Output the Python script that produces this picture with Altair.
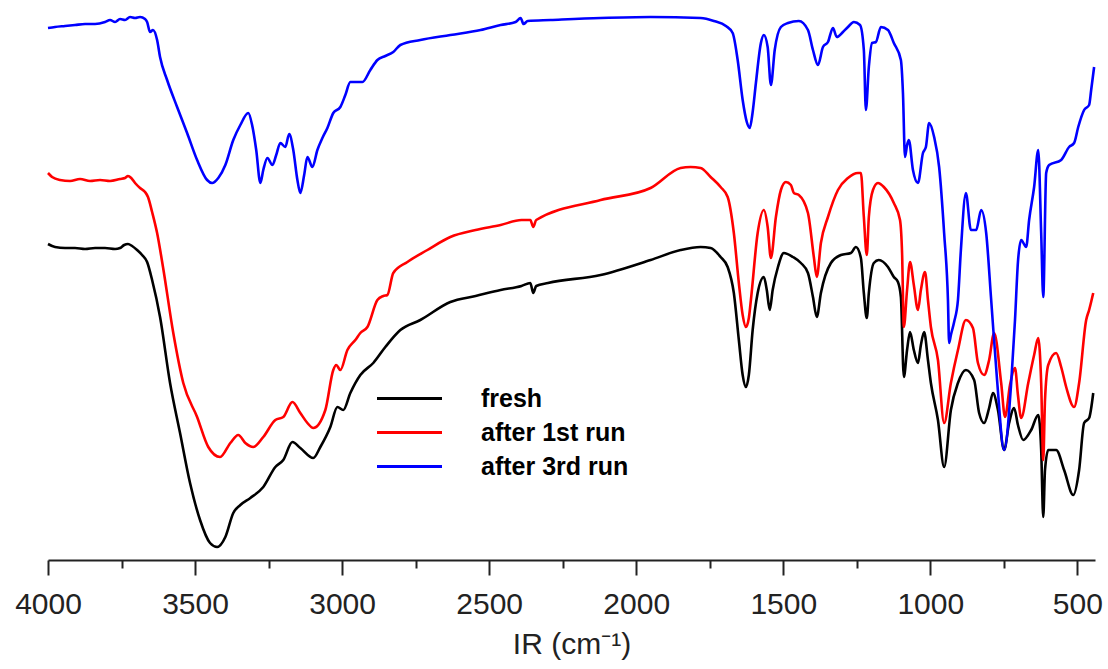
import altair as alt
import pandas as pd

# ---- data (wavenumber in cm-1, transmittance in arbitrary units, offset curves) ----
fresh_wn = [4000, 3976, 3942, 3908, 3874, 3840, 3806, 3772, 3755, 3741,
            3728, 3714, 3697, 3680, 3663, 3646, 3619, 3585, 3551, 3517,
            3483, 3449, 3425, 3397, 3370, 3346, 3312, 3268, 3227, 3200,
            3169, 3142, 3098, 3074, 3040, 3016, 2996, 2972, 2938, 2894,
            2853, 2802, 2734, 2632, 2546, 2461, 2390, 2360, 2350, 2340,
            2300, 2121, 1951, 1849, 1781, 1747, 1713, 1689, 1668, 1651,
            1638, 1627, 1617, 1604, 1587, 1566, 1556, 1546, 1536, 1518,
            1498, 1467, 1440, 1416, 1399, 1386, 1372, 1338, 1304, 1270,
            1253, 1236, 1226, 1216, 1209, 1192, 1175, 1144, 1124, 1110,
            1100, 1090, 1079, 1069, 1056, 1042, 1032, 1021, 1008, 998,
            974, 953, 930, 906, 879, 851, 834, 817, 800, 787,
            770, 749, 732, 715, 702, 684, 657, 633, 623, 616,
            610, 599, 572, 545, 514, 494, 477, 460, 446]
fresh_t = [316, 313, 312, 312, 311, 312, 312, 311, 312, 315,
           316, 314, 310, 305, 298, 280, 243, 177, 127, 77,
           40, 17, 13, 23, 47, 55, 62, 73, 93, 100,
           118, 112, 102, 113, 133, 153, 150, 167, 185, 197,
           213, 230, 240, 258, 264, 270, 274, 277, 267, 274,
           277, 285, 300, 310, 313, 312, 303, 293, 267, 220,
           185, 173, 185, 230, 267, 283, 270, 250, 270, 293,
           307, 303, 297, 287, 263, 243, 267, 297, 305, 307,
           313, 302, 267, 242, 267, 297, 300, 293, 283, 278,
           263, 183, 210, 228, 210, 197, 215, 228, 200, 177,
           140, 93, 150, 177, 190, 180, 147, 137, 152, 167,
           150, 110, 137, 152, 135, 120, 130, 145, 110, 43,
           90, 110, 110, 90, 65, 90, 137, 142, 167]

run1_wn = [4000, 3986, 3959, 3925, 3891, 3857, 3823, 3789, 3755, 3738,
           3728, 3717, 3704, 3687, 3670, 3660, 3646, 3629, 3609, 3574,
           3540, 3493, 3455, 3415, 3380, 3353, 3329, 3302, 3268, 3227,
           3200, 3169, 3142, 3118, 3098, 3057, 3030, 3020, 3006, 2982,
           2955, 2938, 2914, 2880, 2860, 2846, 2826, 2778, 2710, 2632,
           2546, 2461, 2390, 2360, 2350, 2340, 2121, 1951, 1849, 1815,
           1781, 1747, 1713, 1689, 1668, 1651, 1638, 1627, 1617, 1610,
           1587, 1566, 1553, 1542, 1525, 1508, 1491, 1474, 1464, 1447,
           1416, 1396, 1386, 1372, 1348, 1314, 1280, 1246, 1236, 1226,
           1216, 1209, 1195, 1178, 1158, 1124, 1103, 1096, 1090, 1079,
           1069, 1056, 1042, 1032, 1018, 1008, 998, 974, 953, 930,
           906, 879, 855, 838, 817, 800, 783, 759, 746, 729,
           712, 702, 691, 667, 647, 633, 623, 616, 610, 599,
           572, 555, 538, 511, 494, 470, 460, 446]
run1_t = [387, 383, 380, 379, 381, 379, 380, 379, 381, 382,
          384, 382, 377, 372, 368, 363, 348, 327, 293, 227,
          177, 143, 113, 103, 117, 125, 117, 113, 123, 140,
          143, 158, 147, 137, 132, 150, 190, 195, 190, 210,
          220, 227, 233, 260, 264, 265, 287, 298, 310, 323,
          330, 335, 340, 340, 333, 340, 360, 372, 392, 393,
          392, 383, 373, 363, 327, 277, 245, 233, 242, 260,
          327, 350, 333, 302, 343, 370, 378, 375, 367, 365,
          347, 303, 283, 317, 343, 370, 382, 387, 387, 343,
          305, 343, 370, 377, 373, 357, 340, 307, 233, 270,
          298, 275, 250, 270, 288, 260, 233, 200, 137, 177,
          210, 240, 232, 197, 185, 200, 227, 177, 143, 175,
          192, 165, 142, 177, 205, 222, 177, 100, 160, 195,
          207, 193, 173, 153, 177, 240, 250, 267]

run3_wn = [4000, 3976, 3942, 3908, 3874, 3840, 3806, 3789, 3772, 3755,
           3738, 3721, 3704, 3687, 3670, 3663, 3653, 3643, 3629, 3619,
           3595, 3561, 3527, 3493, 3459, 3442, 3421, 3397, 3370, 3346,
           3319, 3306, 3292, 3278, 3268, 3254, 3237, 3224, 3210, 3193,
           3180, 3166, 3152, 3142, 3129, 3118, 3101, 3084, 3067, 3050,
           3030, 3006, 2989, 2972, 2952, 2931, 2904, 2880, 2853, 2826,
           2802, 2734, 2632, 2529, 2461, 2410, 2393, 2383, 2369, 2291,
           2121, 1951, 1781, 1736, 1695, 1672, 1655, 1638, 1624, 1614,
           1604, 1593, 1576, 1566, 1553, 1542, 1529, 1508, 1484, 1447,
           1416, 1399, 1382, 1365, 1348, 1331, 1318, 1297, 1280, 1260,
           1239, 1226, 1219, 1209, 1198, 1185, 1168, 1144, 1124, 1100,
           1093, 1086, 1079, 1073, 1059, 1042, 1025, 1015, 1004, 987,
           970, 953, 940, 936, 930, 919, 906, 896, 879, 862,
           844, 827, 810, 793, 773, 749, 725, 712, 702, 691,
           674, 664, 647, 633, 623, 616, 606, 596, 555, 528,
           511, 497, 477, 460, 453, 443]
run3_t = [532, 533, 534, 535, 536, 536, 538, 540, 538, 541,
          540, 543, 542, 543, 541, 538, 528, 530, 520, 503,
          480, 453, 427, 400, 380, 377, 382, 395, 420, 435,
          447, 435, 410, 377, 390, 402, 395, 405, 417, 413,
          426, 410, 380, 367, 385, 403, 393, 410, 422, 432,
          447, 453, 465, 478, 478, 478, 490, 500, 504, 508,
          515, 520, 525, 530, 535, 538, 542, 536, 539, 540,
          542, 543, 542, 539, 534, 527, 500, 460, 438, 432,
          448, 477, 517, 525, 513, 475, 510, 533, 537, 539,
          530, 510, 495, 513, 518, 532, 523, 528, 533, 538,
          535, 510, 450, 493, 517, 518, 533, 530, 517, 500,
          467, 403, 415, 420, 390, 377, 407, 413, 437, 423,
          393, 327, 260, 217, 225, 238, 260, 310, 367, 330,
          330, 350, 327, 260, 180, 110, 177, 240, 298, 320,
          313, 340, 373, 410, 327, 263, 387, 395, 400, 413,
          417, 433, 450, 455, 470, 493]

series_names = ["fresh", "after 1st run", "after 3rd run"]
series_colors = ["#000000", "#ff0000", "#0000ff"]
major_ticks = [4000, 3500, 3000, 2500, 2000, 1500, 1000, 500]
minor_ticks = [3750, 3250, 2750, 2250, 1750, 1250, 750]
x_domain = [4000, 440]
y_domain = [0, 550]

frames = []
for name, wn, t in [(series_names[0], fresh_wn, fresh_t),
                    (series_names[1], run1_wn, run1_t),
                    (series_names[2], run3_wn, run3_t)]:
    frames.append(pd.DataFrame({"wn": wn, "t": t, "series": name}))
df = pd.concat(frames, ignore_index=True)

FONT = "Liberation Sans"
xscale = alt.Scale(domain=x_domain, nice=False, zero=False)
yscale = alt.Scale(domain=y_domain, nice=False)

lines = alt.Chart(df).mark_line(strokeWidth=2.6, strokeJoin="round",
                                interpolate="monotone").encode(
    x=alt.X("wn:Q", scale=xscale,
            axis=alt.Axis(values=major_ticks, format="d", tickSize=15, tickWidth=2,
                          domainWidth=2, domainColor="#222222", tickColor="#222222",
                          labelFont=FONT, labelFontSize=30, labelColor="#222222",
                          labelPadding=14, labelFlush=False, labelOverlap=False,
                          grid=False, title="IR (cm⁻¹)", titleFont=FONT,
                          titleFontSize=30, titleFontWeight="normal",
                          titleColor="#222222", titlePadding=10)),
    y=alt.Y("t:Q", scale=yscale, axis=None),
    color=alt.Color("series:N",
                    scale=alt.Scale(domain=series_names, range=series_colors),
                    legend=alt.Legend(title=None, orient="none", legendX=349, legendY=376,
                                      symbolType="M-5,0H5", symbolSize=169,
                                      symbolStrokeWidth=3, labelFont=FONT,
                                      labelFontSize=25, labelFontWeight="bold",
                                      labelColor="#000000", labelOffset=59,
                                      rowPadding=8, padding=0)),
    detail="series:N",
)

minor = alt.Chart(df).mark_line(opacity=0).encode(
    x=alt.X("wn:Q", scale=xscale,
            axis=alt.Axis(values=minor_ticks, labels=False, domain=False, grid=False,
                          tickSize=8, tickWidth=2, tickColor="#222222",
                          orient="bottom", title="")),
    y=alt.Y("t:Q", scale=yscale, axis=None),
)

chart = alt.layer(lines, minor).resolve_axis(x="independent").properties(
    width=1047, height=550,
    autosize=alt.AutoSizeParams(type="none"),
    padding={"left": 48, "top": 10, "right": 13, "bottom": 109},
    background="white",
).configure_view(strokeWidth=0)

chart.save("out.html", embed_options={"renderer": "svg", "actions": False})
